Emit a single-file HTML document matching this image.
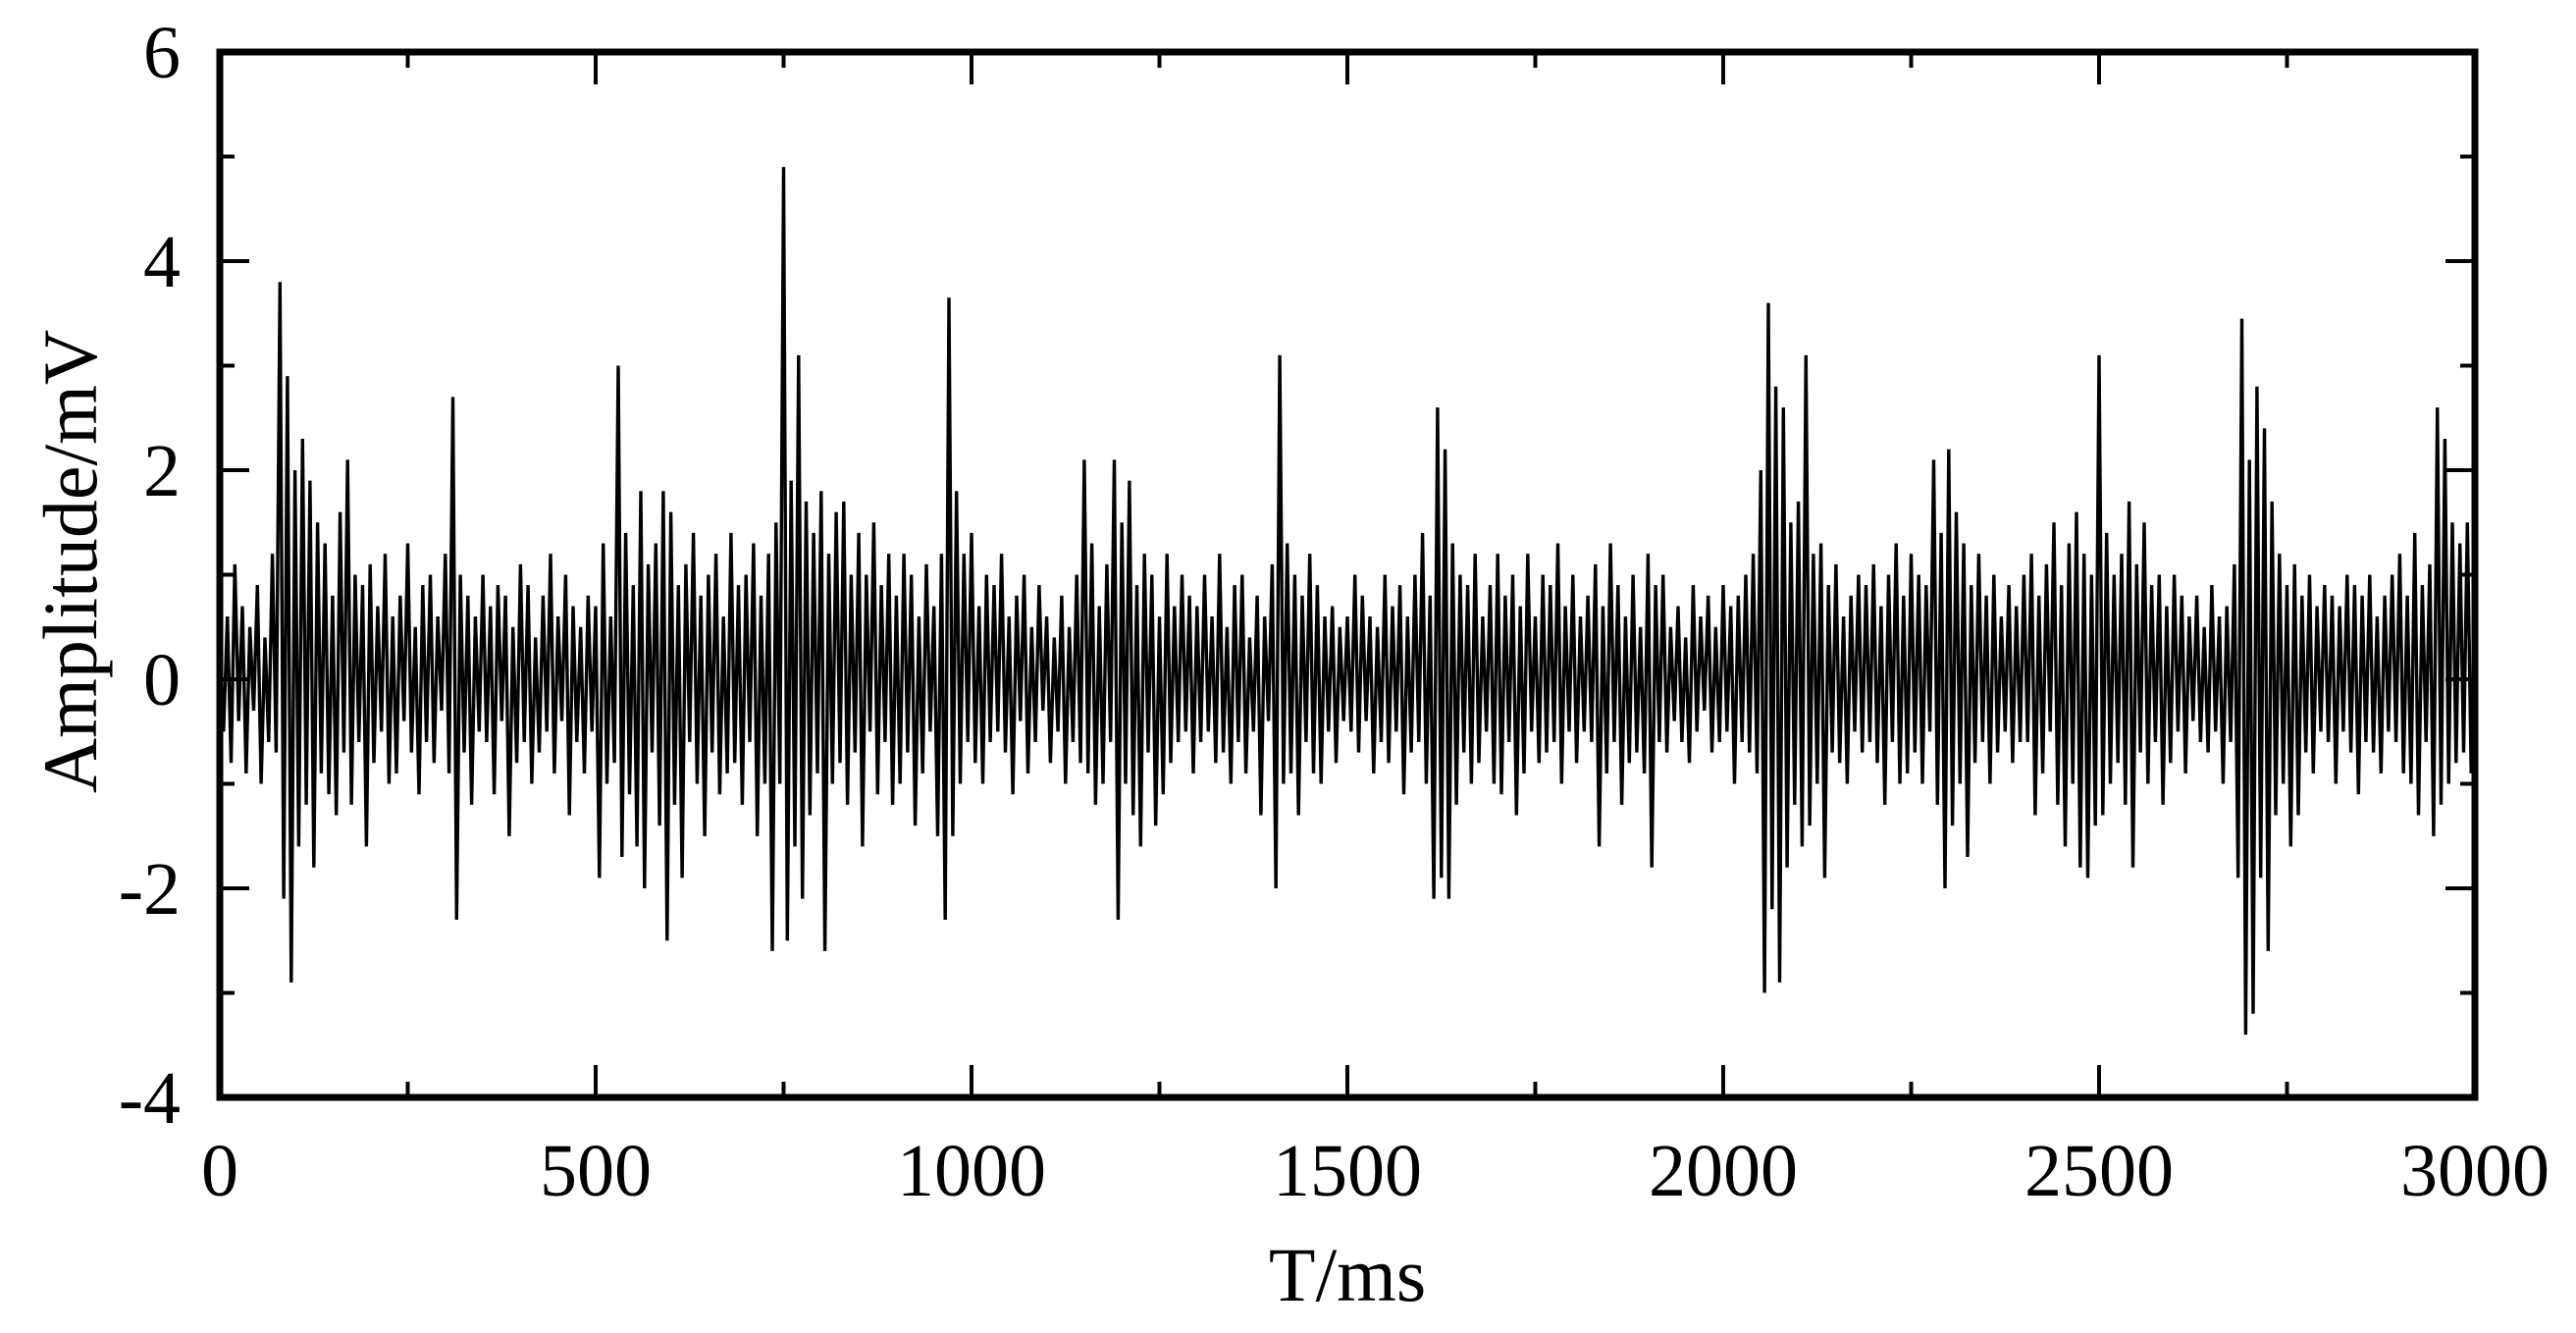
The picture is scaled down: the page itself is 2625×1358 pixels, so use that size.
<!DOCTYPE html>
<html><head><meta charset="utf-8"><style>
html,body{margin:0;padding:0;background:#fff;width:2625px;height:1358px;overflow:hidden}
svg{display:block;font-family:"Liberation Serif",serif}
</style></head><body>
<svg id="chart" width="2625" height="1358" viewBox="0 0 2625 1358" xmlns="http://www.w3.org/2000/svg">
<g id="series"></g>
<g id="axes"></g>
<text x="1373" y="1325" font-size="78" text-anchor="middle">T/ms</text>
<text x="0" y="0" font-size="78" text-anchor="middle" transform="translate(98,572) rotate(-90)">Amplitude/mV</text>
</svg>
<script>
const xTicks=[0,500,1000,1500,2000,2500,3000];
const yTicks=[-4,-2,0,2,4,6];
const sampleStep=5;
const amplitude=[
0.3,-0.5,0.6,-0.8,1.1,-0.4,0.7,-0.9,0.5,-0.3,0.9,-1.0,0.4,-0.6,1.2,-0.7,3.8,-2.1,2.9,-2.9,
2.0,-1.6,2.3,-1.2,1.9,-1.8,1.5,-0.9,1.3,-1.1,0.8,-1.3,1.6,-0.7,2.1,-1.2,1.0,-0.6,0.9,-1.6,
1.1,-0.8,0.7,-0.5,1.2,-1.0,0.6,-0.9,0.8,-0.4,1.3,-0.7,0.5,-1.1,0.9,-0.6,1.0,-0.8,0.6,-0.3,
1.2,-0.9,2.7,-2.3,1.0,-0.7,0.8,-1.2,0.6,-0.5,1.0,-0.6,0.7,-1.1,0.9,-0.4,0.8,-1.5,0.5,-0.8,
1.1,-0.6,0.9,-1.0,0.4,-0.7,0.8,-0.5,1.2,-0.9,0.6,-0.4,1.0,-1.3,0.7,-0.6,0.5,-0.9,0.8,-0.5,
0.7,-1.9,1.3,-1.0,0.6,-0.8,3.0,-1.7,1.4,-1.1,0.9,-1.6,1.8,-2.0,1.1,-0.7,1.3,-1.4,1.8,-2.5,
1.6,-1.2,0.9,-1.9,1.1,-0.6,1.4,-1.0,0.8,-1.5,1.0,-0.7,1.2,-1.1,0.6,-0.9,1.4,-0.8,0.9,-1.2,
1.0,-0.6,1.3,-1.5,0.8,-1.0,1.2,-2.6,1.5,-1.0,4.9,-2.5,1.9,-1.6,3.1,-2.1,1.7,-1.3,1.4,-0.9,
1.8,-2.6,1.2,-1.0,1.6,-0.8,1.7,-1.2,1.0,-0.7,1.4,-1.6,1.0,-0.5,1.5,-1.1,0.9,-0.6,1.2,-1.2,
0.8,-1.0,1.2,-0.7,1.0,-1.4,0.6,-0.9,1.1,-0.5,0.7,-1.5,1.2,-2.3,3.65,-1.5,1.8,-1.0,1.2,-0.6,
1.4,-0.8,0.7,-1.0,1.0,-0.6,0.9,-0.5,1.2,-0.7,0.6,-1.1,0.8,-0.4,1.0,-0.9,0.5,-0.6,0.9,-0.3,
0.6,-0.8,0.4,-0.5,0.8,-1.0,0.5,-0.6,1.0,-0.8,2.1,-0.9,1.3,-1.2,0.7,-1.0,1.1,-0.6,2.1,-2.3,
1.5,-1.0,1.9,-1.3,0.9,-1.6,1.2,-0.7,1.0,-1.4,0.6,-1.1,1.2,-0.8,0.7,-0.6,1.0,-0.5,0.8,-0.9,
0.7,-0.6,1.0,-0.5,0.6,-0.8,1.2,-0.7,0.5,-1.0,0.9,-0.6,1.0,-0.9,0.4,-0.5,0.8,-1.3,0.6,-0.4,
1.1,-2.0,3.1,-1.0,1.3,-0.9,1.0,-1.3,0.8,-0.6,1.2,-0.9,0.9,-1.0,0.6,-0.5,0.7,-0.8,0.5,-0.4,
0.6,-0.5,1.0,-0.7,0.8,-0.4,0.6,-0.9,0.5,-0.6,1.0,-0.8,0.7,-0.5,0.9,-1.1,0.6,-0.7,1.0,-0.6,
1.4,-1.0,0.8,-2.1,2.6,-1.9,2.2,-2.1,1.3,-1.2,1.0,-0.7,0.9,-1.0,1.2,-0.8,0.6,-0.5,0.9,-1.0,
1.2,-1.1,0.8,-0.6,1.0,-1.3,0.7,-0.9,1.2,-0.5,0.6,-0.8,1.0,-0.7,0.9,-0.6,1.3,-1.0,0.7,-0.5,
1.0,-0.8,0.6,-0.5,0.8,-0.6,1.1,-1.6,0.7,-0.9,1.3,-0.6,0.9,-1.2,0.6,-0.8,1.0,-0.7,0.5,-0.9,
1.2,-1.8,0.9,-0.6,1.0,-0.7,0.5,-0.4,0.7,-0.6,0.4,-0.8,0.9,-0.5,0.6,-0.3,0.8,-0.7,0.5,-0.6,
0.9,-0.5,0.7,-1.0,0.8,-0.6,1.0,-0.7,1.2,-0.9,2.0,-3.0,3.6,-2.2,2.8,-2.9,2.6,-1.8,1.5,-1.2,
1.7,-1.6,3.1,-1.4,1.2,-1.0,1.3,-1.9,0.9,-0.7,1.1,-0.8,0.6,-1.0,0.8,-0.5,1.0,-0.7,0.9,-0.6,
1.1,-0.8,0.7,-1.2,1.0,-0.6,1.3,-1.0,0.8,-0.9,1.2,-0.7,1.0,-1.0,0.9,-0.5,2.1,-1.2,1.4,-2.0,
2.2,-1.4,1.6,-1.0,1.3,-1.7,0.9,-0.8,1.2,-0.6,0.8,-1.0,1.0,-0.7,0.6,-0.5,0.9,-0.8,0.7,-0.6,
1.0,-0.6,1.2,-1.3,0.8,-0.9,1.1,-0.5,1.5,-1.2,0.9,-1.6,1.3,-1.0,1.6,-1.8,1.2,-1.9,1.0,-1.4,
3.1,-1.3,1.4,-1.0,1.0,-0.8,1.2,-1.2,1.7,-1.8,1.1,-0.7,1.5,-1.0,0.9,-0.6,1.0,-1.2,0.7,-0.8,
1.0,-0.5,0.8,-0.9,0.6,-0.4,0.8,-0.6,0.5,-0.7,0.9,-0.5,0.6,-1.0,0.7,-0.6,1.1,-1.9,3.45,-3.4,
2.1,-3.2,2.8,-1.9,2.4,-2.6,1.7,-1.3,1.2,-1.0,0.9,-1.6,1.1,-1.3,0.8,-0.7,1.0,-0.9,0.7,-0.5,
0.9,-0.6,0.8,-1.0,0.7,-0.5,1.0,-0.7,0.9,-1.1,0.8,-0.6,1.0,-0.7,0.6,-0.9,0.8,-0.5,1.0,-0.6,
1.2,-0.9,0.8,-1.0,1.4,-1.3,0.9,-0.6,1.1,-1.5,2.6,-1.2,2.3,-1.0,1.5,-0.8,1.3,-0.7,1.5,-0.9
];
const L=224,R=2522,T=53,B=1118,xMin=0,xMax=3000,yMin=-4,yMax=6;
const NS="http://www.w3.org/2000/svg";
function sx(v){return L+(v-xMin)/(xMax-xMin)*(R-L);}
function sy(v){return B-(v-yMin)/(yMax-yMin)*(B-T);}
function mk(tag,attrs,parent){const e=document.createElementNS(NS,tag);for(const k in attrs)e.setAttribute(k,attrs[k]);parent.appendChild(e);return e;}
const series=document.getElementById('series');
let d='';
amplitude.forEach((v,i)=>{d+=(i?'L':'M')+sx(i*sampleStep).toFixed(1)+','+sy(v).toFixed(1);});
const line=mk('path',{d:d,fill:'none',stroke:'#000','stroke-width':'3.4','stroke-linejoin':'miter'},series);


const axes=document.getElementById('axes');
const frame=mk('rect',{x:L,y:T,width:R-L,height:B-T,fill:'none',stroke:'#000','stroke-width':'7'},axes);


for(let v=0;v<=3000;v+=250){
  const major=v%500===0, len=major?33:16, x=sx(v);
  const t1=mk('line',{x1:x,y1:B,x2:x,y2:B-len,stroke:'#000','stroke-width':'4'},axes);
  
  
  const t2=mk('line',{x1:x,y1:T,x2:x,y2:T+len,stroke:'#000','stroke-width':'4'},axes);
  
  
}
xTicks.forEach(v=>{
  const t=mk('text',{x:sx(v),y:1218,'font-size':'76','text-anchor':'middle'},axes);
  t.textContent=v;
  
  
});
for(let v=-4;v<=6;v+=1){
  const major=v%2===0, len=major?30:15, y=sy(v);
  const t1=mk('line',{x1:L,y1:y,x2:L+len,y2:y,stroke:'#000','stroke-width':'4'},axes);
  
  
  const t2=mk('line',{x1:R,y1:y,x2:R-len,y2:y,stroke:'#000','stroke-width':'4'},axes);
  
  
}
yTicks.forEach(v=>{
  const t=mk('text',{x:184,y:sy(v)+26,'font-size':'76','text-anchor':'end'},axes);
  t.textContent=v;
  
  
});
</script>
</body></html>
